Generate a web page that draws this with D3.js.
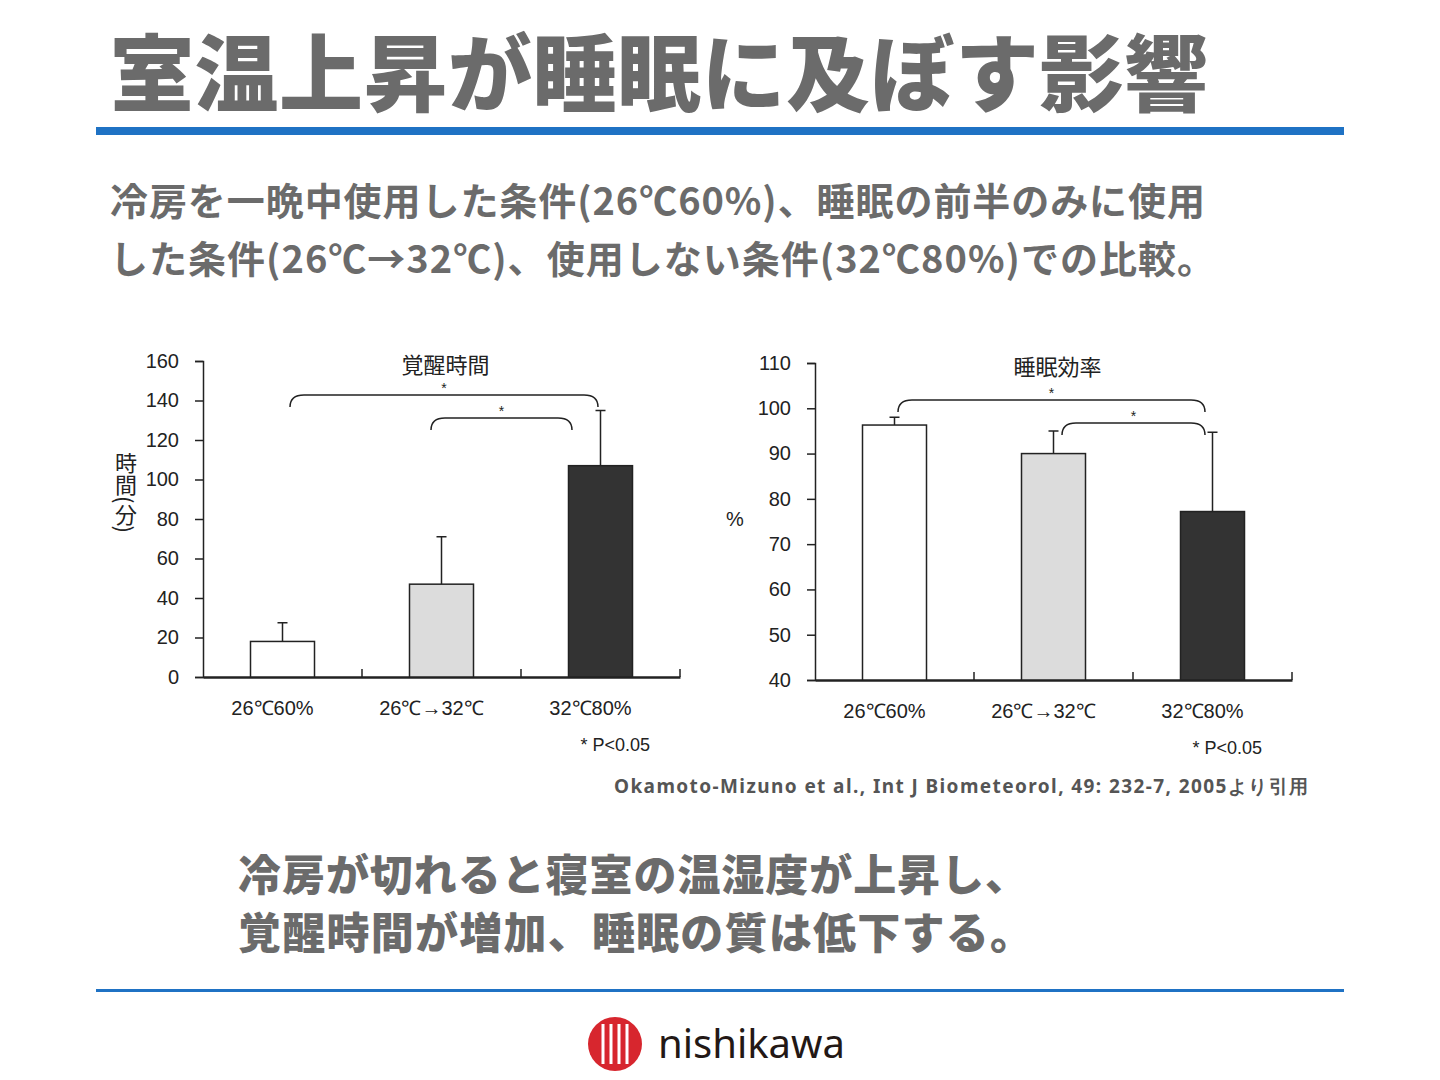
<!DOCTYPE html>
<html><head><meta charset="utf-8">
<script src="https://cdn.jsdelivr.net/npm/d3@7"></script>
<style>body{margin:0;background:#fff}svg{display:block}</style>
</head><body>
<script>
// data
var categories = ["26℃60%", "26℃→32℃", "32℃80%"]
var wakeValues = [18, 47, 107]
var wakeErrors = [27.5, 71, 135]
var wakeTicks = [0, 20, 40, 60, 80, 100, 120, 140, 160]
var effValues = [96.3, 90, 77.2]
var effErrors = [98, 95, 94.7]
var effTicks = [40, 50, 60, 70, 80, 90, 100, 110]
var barFills = ["#ffffff", "#dcdcdc", "#333333"]

var svg = d3.select("body").append("svg").attr("width", 1440).attr("height", 1080)
var jp = "'Noto Sans CJK JP', sans-serif"

// header
svg.append("text").attr("x", 110).attr("y", 105).attr("font-family", jp).attr("font-weight", 900)
  .attr("font-size", 84).attr("fill", "#6b6b6b").attr("textLength", 1098).text("室温上昇が睡眠に及ぼす影響")
svg.append("rect").attr("x", 96).attr("y", 127).attr("width", 1248).attr("height", 8).attr("fill", "#1f72c4")
var sub = ["冷房を一晩中使用した条件(26℃60%)、睡眠の前半のみに使用", "した条件(26℃→32℃)、使用しない条件(32℃80%)での比較。"]
var subLen = [1095, 1105]
svg.selectAll(".sub").data(sub).enter().append("text")
  .attr("x", 110).attr("y", (d, i) => 215 + i * 58)
  .attr("font-family", jp).attr("font-weight", 700).attr("font-size", 38).attr("fill", "#6b6b6b")
  .attr("textLength", (d, i) => subLen[i]).text(d => d)

function chart(o) {
  var g = svg.append("g").attr("font-family", "'Liberation Sans', Arial, sans-serif").attr("fill", "#222")
  var y = d3.scaleLinear().domain(o.domain).range([o.y0, o.y1])
  var x = d3.scaleBand().domain(categories).range([o.x0, o.x1])
  var bw = 64
  g.append("g").attr("transform", "translate(" + o.x0 + ",0)")
    .call(d3.axisLeft(y).tickValues(o.ticks).tickSize(8).tickPadding(16))
    .call(a => a.selectAll("text").attr("font-size", 20).attr("fill", "#222"))
    .call(a => a.selectAll("line,path").attr("stroke", "#222").attr("stroke-width", 1.5))
  g.append("g").attr("transform", "translate(0," + o.y0 + ")")
    .call(d3.axisBottom(x).tickSize(0).tickPadding(24))
    .call(a => a.selectAll("text").attr("font-size", 20).attr("fill", "#222").attr("dx", -10))
    .call(a => a.select("path").attr("stroke", "#222").attr("stroke-width", 2.5))
  categories.forEach(c => {
    var xx = x(c) + x.bandwidth()
    g.append("line").attr("x1", xx).attr("x2", xx).attr("y1", o.y0).attr("y2", o.y0 - 8).attr("stroke", "#222").attr("stroke-width", 1.5)
  })
  var cx = c => x(c) + x.bandwidth() / 2
  g.selectAll(".err").data(categories).enter().append("path")
    .attr("d", (c, i) => "M" + cx(c) + "," + y(o.values[i]) + "V" + y(o.errors[i]) + "M" + (cx(c) - 5) + "," + y(o.errors[i]) + "H" + (cx(c) + 5))
    .attr("stroke", "#222").attr("stroke-width", 1.5).attr("fill", "none")
  g.selectAll(".bar").data(categories).enter().append("rect")
    .attr("x", c => cx(c) - bw / 2).attr("width", bw)
    .attr("y", (c, i) => y(o.values[i])).attr("height", (c, i) => o.y0 - y(o.values[i]))
    .attr("fill", (c, i) => barFills[i]).attr("stroke", "#222").attr("stroke-width", 1.5)
  g.append("text").attr("x", cx(categories[1]) + 4).attr("y", o.y1 + 12).attr("text-anchor", "middle")
    .attr("font-family", jp).attr("font-size", 22).text(o.title)
  o.brackets.forEach(b => {
    var xa = b[0], xb = b[1], yy = b[2]
    g.append("path").attr("d", "M" + xa + "," + (yy + 12) + "Q" + xa + "," + yy + " " + (xa + 14) + "," + yy + "H" + (xb - 14) + "Q" + xb + "," + yy + " " + xb + "," + (yy + 12))
      .attr("stroke", "#222").attr("stroke-width", 1.5).attr("fill", "none")
    g.append("text").attr("x", (xa + xb) / 2).attr("y", yy - 2).attr("text-anchor", "middle").attr("font-size", 14).text("*")
  })
  g.append("text").attr("x", o.x1 - 30).attr("y", o.y0 + 74).attr("text-anchor", "end").attr("font-size", 18).text("*   P<0.05")
  return g
}

var left = chart({domain: [0, 160], ticks: wakeTicks, x0: 203, x1: 680, y0: 677, y1: 361,
  values: wakeValues, errors: wakeErrors, title: "覚醒時間",
  brackets: [[290, 598, 395], [431, 572, 418]]})
left.append("text").attr("font-family", jp).attr("font-size", 22).attr("writing-mode", "vertical-rl")
  .attr("x", 126).attr("y", 452).text("時間(分)")

var right = chart({domain: [40, 110], ticks: effTicks, x0: 815, x1: 1292, y0: 680, y1: 363,
  values: effValues, errors: effErrors, title: "睡眠効率",
  brackets: [[898, 1205, 400], [1062, 1205, 423]]})
right.append("text").attr("x", 735).attr("y", 526).attr("text-anchor", "middle").attr("font-size", 20).text("%")

svg.append("text").attr("x", 614).attr("y", 793).attr("font-family", "'Noto Sans', sans-serif")
  .attr("font-weight", 700).attr("font-size", 19).attr("fill", "#555").attr("textLength", 694)
  .text("Okamoto-Mizuno et al., Int J Biometeorol, 49: 232-7, 2005より引用")

var concl = ["冷房が切れると寝室の温湿度が上昇し、", "覚醒時間が増加、睡眠の質は低下する。"]
var conclLen = [790, 795]
svg.selectAll(".concl").data(concl).enter().append("text")
  .attr("x", 238).attr("y", (d, i) => 891 + i * 58)
  .attr("font-family", jp).attr("font-weight", 900).attr("font-size", 43).attr("fill", "#6b6b6b")
  .attr("textLength", (d, i) => conclLen[i]).text(d => d)
svg.append("rect").attr("x", 96).attr("y", 989).attr("width", 1248).attr("height", 3).attr("fill", "#1f72c4")

// logo
var logo = svg.append("g").attr("transform", "translate(615,1044)")
logo.append("circle").attr("r", 27).attr("fill", "#d7262e")
;[-12, -4, 4, 12].forEach(dx => logo.append("rect").attr("x", dx - 1.5).attr("y", -20).attr("width", 3).attr("height", 40).attr("fill", "#fff"))
svg.append("text").attr("x", 658).attr("y", 1058).attr("font-family", "'Noto Sans', sans-serif").attr("font-size", 40)
  .attr("fill", "#231815").text("nishikawa")
</script>
</body></html>
